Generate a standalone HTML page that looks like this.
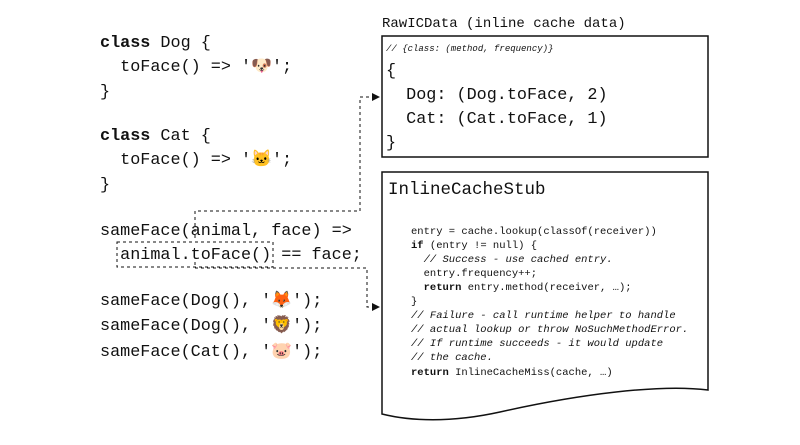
<!DOCTYPE html>
<html><head><meta charset="utf-8"><style>
html,body{margin:0;padding:0;background:#fff;}
svg text{font-family:"Liberation Mono",monospace;fill:#111;white-space:pre;}
.b{font-weight:bold}
.i{font-style:italic}
</style></head><body>
<svg width="800" height="440" viewBox="0 0 800 440" xmlns="http://www.w3.org/2000/svg" xml:space="preserve">
<g font-size="16.8">
<text x="100" y="47"><tspan class="b">class</tspan> Dog {</text>
<text x="100" y="71">  toFace() =&gt; '🐶';</text>
<text x="100" y="96">}</text>
<text x="100" y="140"><tspan class="b">class</tspan> Cat {</text>
<text x="100" y="164">  toFace() =&gt; '🐱';</text>
<text x="100" y="189">}</text>
<text x="100" y="235">sameFace(animal, face) =&gt;</text>
<text x="100" y="259">  animal.toFace() == face;</text>
<text x="100" y="305">sameFace(Dog(), '🦊');</text>
<text x="100" y="330">sameFace(Dog(), '🦁');</text>
<text x="100" y="356">sameFace(Cat(), '🐷');</text>
</g>
<rect x="117" y="242" width="156" height="25" fill="none" stroke="#111" stroke-dasharray="3,3"/>
<polyline points="195,238 195,211 360,211 360,97 372,97" fill="none" stroke="#111" stroke-dasharray="3,3"/>
<polygon points="372,93 380,97 372,101" fill="#111"/>
<polyline points="195,262 195,268 367,268 367,307 372,307" fill="none" stroke="#111" stroke-dasharray="3,3"/>
<polygon points="372,303 380,307 372,311" fill="#111"/>
<text x="382" y="27" font-size="14">RawICData (inline cache data)</text>
<rect x="382" y="36" width="326" height="121" fill="#fff" stroke="#111" stroke-width="1.5"/>
<text x="386" y="51" font-size="9" class="i">// {class: (method, frequency)}</text>
<g font-size="16.8">
<text x="386" y="75">{</text>
<text x="386" y="99">  Dog: (Dog.toFace, 2)</text>
<text x="386" y="123">  Cat: (Cat.toFace, 1)</text>
<text x="386" y="147">}</text>
</g>
<path d="M382,172 L708,172 L708,390 C660,384 580,394 500,412 C450,423 410,421 382,414 Z" fill="#fff" stroke="#111" stroke-width="1.5"/>
<text x="388" y="194" font-size="17.5">InlineCacheStub</text>
<g font-size="10.5">
<text x="411" y="234">entry = cache.lookup(classOf(receiver))</text>
<text x="411" y="248"><tspan class="b">if</tspan> (entry != null) {</text>
<text x="411" y="262" class="i">  // Success - use cached entry.</text>
<text x="411" y="276">  entry.frequency++;</text>
<text x="411" y="290">  <tspan class="b">return</tspan> entry.method(receiver, …);</text>
<text x="411" y="304">}</text>
<text x="411" y="318" class="i">// Failure - call runtime helper to handle</text>
<text x="411" y="332" class="i">// actual lookup or throw NoSuchMethodError.</text>
<text x="411" y="346" class="i">// If runtime succeeds - it would update</text>
<text x="411" y="360" class="i">// the cache.</text>
<text x="411" y="375"><tspan class="b">return</tspan> InlineCacheMiss(cache, …)</text>
</g>
</svg>
</body></html>
